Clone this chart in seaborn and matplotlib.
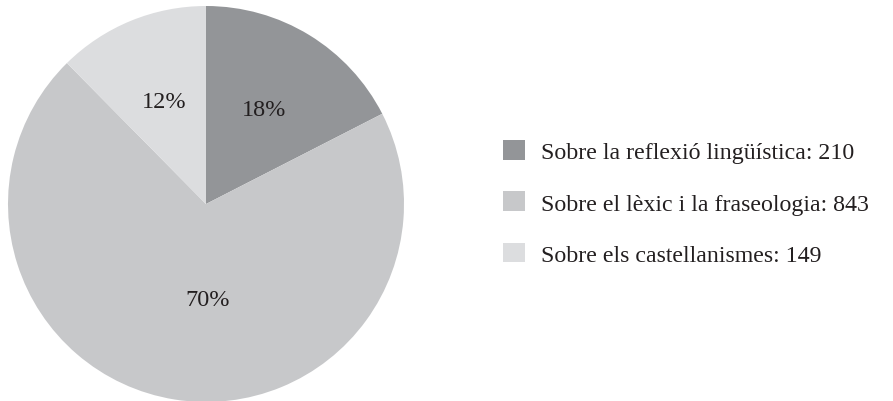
import seaborn as sns
import matplotlib.pyplot as plt

# Data
categories = ['Sobre la reflexió lingüística', 'Sobre el lèxic i la fraseologia', 'Sobre els castellanismes']
counts = [210, 843, 149]
pct_labels = ['18%', '70%', '12%']
colors = ['#939598', '#c7c8ca', '#dcdddf']

sns.set_style('white')
plt.rcParams['font.family'] = ['Liberation Serif', 'DejaVu Serif']

fig = plt.figure(figsize=(8.93, 4.02), dpi=100)
ax = fig.add_axes([8 / 893, -1 / 402, 396 / 893, 396 / 402])

wedges, texts = ax.pie(counts, colors=colors, startangle=90, counterclock=False,
                       labels=pct_labels, labeldistance=0.56,
                       textprops={'fontsize': 17.5, 'color': '#231f20',
                                  'ha': 'center', 'va': 'center'},
                       wedgeprops={'linewidth': 0})
# nudge the big slice's label to where the original puts it
texts[1].set_position((0.01, -0.48))
ax.set_xlim(-1, 1)
ax.set_ylim(-1, 1)
ax.set_aspect('equal')

legend_labels = [f'{c}: {n}' for c, n in zip(categories, counts)]
fig.legend(wedges, legend_labels, loc='center left',
           bbox_to_anchor=(503 / 893, 198 / 402), frameon=False,
           fontsize=17.2, handlelength=0.9, handleheight=0.9,
           handletextpad=0.7, labelspacing=1.17, borderpad=0,
           borderaxespad=0, labelcolor='#231f20')

fig.savefig('out.png', dpi=100)
